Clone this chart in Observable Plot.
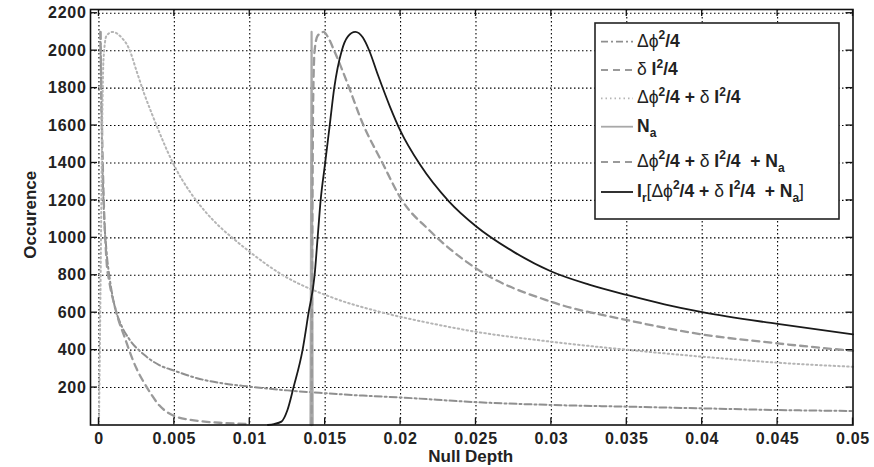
<!DOCTYPE html>
<html><head><meta charset="utf-8">
<script src="https://cdn.jsdelivr.net/npm/d3@7"></script>
<script src="https://cdn.jsdelivr.net/npm/@observablehq/plot@0.6"></script>
<style>body{margin:0;background:#fff} svg{display:block}</style>
</head><body><div id="chart"></div>
<script>
// ---- data ----
const xTicks = [0, 0.005, 0.01, 0.015, 0.02, 0.025, 0.03, 0.035, 0.04, 0.045, 0.05];
const xTickLabels = ["0", "0.005", "0.01", "0.015", "0.02", "0.025", "0.03", "0.035", "0.04", "0.045", "0.05"];
const yTicks = [200, 400, 600, 800, 1000, 1200, 1400, 1600, 1800, 2000, 2200];
const yTickLabels = ["200", "400", "600", "800", "1000", "1200", "1400", "1600", "1800", "2000", "2200"];

// Δφ²/4 (dash-dot)
const dphiX = [0.0001,0.0002,0.0003,0.0005,0.0007,0.001,0.0015,0.002,0.003,0.004,0.005,0.0065,0.008,0.01,0.0125,0.015,0.0175,0.02,0.025,0.03,0.035,0.04,0.045,0.05];
const dphiY = [2100,1500,1200,930,790,650,530,460,375,320,290,250,225,205,185,170,157,147,122,107,98,89,80,75];
// δI²/4 (dashed)
const dIX = [0.0001,0.0002,0.0003,0.0004,0.0005,0.0007,0.001,0.0013,0.0017,0.002,0.0025,0.003,0.0035,0.004,0.0045,0.005,0.006,0.007,0.008,0.009,0.01];
const dIY = [2100,1600,1250,1030,880,760,650,560,470,400,300,225,160,105,70,48,28,18,12,8,5];
// Δφ²/4 + δI²/4 (dotted)
const dotX = [0,0.0001,0.0002,0.0003,0.0005,0.0009,0.0015,0.002,0.0025,0.003,0.0035,0.004,0.0045,0.005,0.006,0.007,0.008,0.009,0.01,0.012,0.0154,0.0187,0.0219,0.025,0.03,0.035,0.04,0.045,0.05];
const dotY = [0,700,1500,1950,2080,2100,2070,2010,1890,1770,1665,1565,1470,1385,1250,1145,1060,990,925,810,683,603,545,498,445,402,365,333,311];
// N_a (narrow solid)
const naX = [0.01403, 0.0141, 0.01417];
const naY = [0, 2100, 0];
// Δφ²/4 + δI²/4 + N_a (dashed)
const sumX = [0.0141,0.01415,0.0142,0.0143,0.0145,0.0149,0.0152,0.0156,0.0166,0.0174,0.0188,0.0201,0.0219,0.025,0.03,0.035,0.04,0.045,0.05];
const sumY = [0,1000,1700,2000,2080,2100,2070,2000,1800,1628,1400,1200,1041,837,658,561,484,436,396];
// I_r[...] (solid black)
const irX = [0.0112,0.0116,0.0121,0.0125,0.0129,0.0135,0.0139,0.0143,0.0145,0.0147,0.015,0.0153,0.0156,0.0161,0.0165,0.017,0.0175,0.0179,0.0185,0.0193,0.02,0.0213,0.0232,0.025,0.0275,0.03,0.0325,0.035,0.0375,0.04,0.045,0.05];
const irY = [0,5,18,80,200,400,600,800,1000,1200,1400,1600,1800,2000,2075,2100,2070,2005,1870,1700,1570,1390,1195,1062,925,820,750,695,645,603,540,484];

const toRows = (xs, ys) => xs.map((x, i) => ({x, y: ys[i]}));

const styles = {
  dphi: {stroke: "#8f8f8f", strokeWidth: 2, strokeDasharray: "7,3,2,3"},
  dI:   {stroke: "#9a9a9a", strokeWidth: 2.3, strokeDasharray: "7,5"},
  dot:  {stroke: "#b5b5b5", strokeWidth: 2, strokeDasharray: "1.5,3"},
  na:   {stroke: "#a8a8a8", strokeWidth: 2.2},
  sum:  {stroke: "#9a9a9a", strokeWidth: 2.3, strokeDasharray: "7,5"},
  ir:   {stroke: "#1a1a1a", strokeWidth: 1.8}
};

const font = "'Liberation Sans', Arial, Helvetica, sans-serif";

const svg = Plot.plot({
  width: 874, height: 467,
  marginLeft: 90, marginRight: 21.5, marginTop: 9, marginBottom: 42.5,
  style: {fontFamily: font, fontSize: "16px", color: "#222", background: "#fff"},
  x: {domain: [-0.00056, 0.05]},
  y: {domain: [0, 2220]},
  marks: [
    Plot.ruleX(xTicks.slice(0, -1), {x: d => d, stroke: "#000", strokeWidth: 1.1, strokeDasharray: "1.5,2.5"}),
    Plot.ruleY(yTicks, {y: d => d, stroke: "#000", strokeWidth: 1.1, strokeDasharray: "1.5,2.5"}),
    Plot.line(toRows(dphiX, dphiY), {x: "x", y: "y", curve: "monotone-x", ...styles.dphi}),
    Plot.line(toRows(dIX, dIY), {x: "x", y: "y", curve: "monotone-x", ...styles.dI}),
    Plot.line(toRows(dotX, dotY), {x: "x", y: "y", curve: "monotone-x", ...styles.dot}),
    Plot.line(toRows(naX, naY), {x: "x", y: "y", ...styles.na}),
    Plot.line(toRows(sumX, sumY), {x: "x", y: "y", curve: "monotone-x", ...styles.sum}),
    Plot.line(toRows(irX, irY), {x: "x", y: "y", curve: "monotone-x", ...styles.ir}),
    Plot.axisX(xTicks, {anchor: "bottom", tickSize: 0, tickPadding: 8, label: null, fontSize: 16, fontWeight: "bold",
      tickFormat: d => xTickLabels[xTicks.indexOf(d)]}),
    Plot.axisY(yTicks, {anchor: "left", tickSize: 0, tickPadding: 4, label: null, fontSize: 16, fontWeight: "bold",
      tickFormat: d => yTickLabels[yTicks.indexOf(d)]}),
    Plot.frame({stroke: "#111", strokeWidth: 1.6})
  ]
});

const sx = svg.scale("x"), sy = svg.scale("y");
const [xl, xr] = sx.range, [yb, yt] = sy.range;
const root = d3.select(svg);
root.selectAll("[aria-label='x-axis tick label'] text, [aria-label='y-axis tick label'] text").style("letter-spacing", "0.7px");
const tg = root.append("g").attr("stroke", "#111").attr("stroke-width", 1.3);
const tl = 7;
xTicks.forEach(v => {
  const px = sx.apply(v);
  tg.append("line").attr("x1", px).attr("x2", px).attr("y1", yb).attr("y2", yb - tl);
  tg.append("line").attr("x1", px).attr("x2", px).attr("y1", yt).attr("y2", yt + tl);
});
yTicks.forEach(v => {
  const py = sy.apply(v);
  tg.append("line").attr("y1", py).attr("y2", py).attr("x1", xl).attr("x2", xl + tl);
  tg.append("line").attr("y1", py).attr("y2", py).attr("x1", xr).attr("x2", xr - tl);
});

// axis titles
root.append("text").attr("x", (xl + xr) / 2 - 0.5).attr("y", 462).attr("text-anchor", "middle")
  .attr("font-family", font).attr("font-size", 17).attr("font-weight", "bold").attr("fill", "#222").text("Null Depth");
root.append("text").attr("transform", `translate(36,${(yb + yt) / 2 - 2}) rotate(-90)`).attr("text-anchor", "middle")
  .attr("font-family", font).attr("font-size", 17).attr("font-weight", "bold").attr("fill", "#222").text("Occurence");

// legend
const lg = root.append("g").attr("text-anchor", "start");
lg.append("rect").attr("x", 595).attr("y", 23).attr("width", 244).attr("height", 196)
  .attr("fill", "#fff").attr("stroke", "#222").attr("stroke-width", 1.6);
const S = (t) => ({t, k: "sym"}), B = (t) => ({t, k: "b"}), SUP = (t) => ({t, k: "sup"}), SUB = (t) => ({t, k: "sub"});
const legendRows = [
  {style: styles.dphi, lineY: 41.7, base: 46.7, parts: [S("Δϕ"), SUP("2"), B("/4")]},
  {style: styles.dI, lineY: 70, base: 75, parts: [S("δ"), B(" I"), SUP("2"), B("/4")]},
  {style: styles.dot, lineY: 98.3, base: 103.3, parts: [S("Δϕ"), SUP("2"), B("/4 + "), S("δ"), B(" I"), SUP("2"), B("/4")]},
  {style: styles.na, lineY: 126.7, base: 131.7, parts: [B("N"), SUB("a")]},
  {style: styles.sum, lineY: 162, base: 166.7, parts: [S("Δϕ"), SUP("2"), B("/4 + "), S("δ"), B(" I"), SUP("2"), B("/4  + N"), SUB("a")]},
  {style: styles.ir, lineY: 192, base: 196.7, parts: [B("I"), SUB("r"), S("["), S("Δϕ"), SUP("2"), B("/4 + "), S("δ"), B(" I"), SUP("2"), B("/4  + N"), SUB("a"), S("]")]}
];
legendRows.forEach(r => {
  const ln = lg.append("line").attr("x1", 601).attr("x2", 633).attr("y1", r.lineY).attr("y2", r.lineY)
    .attr("stroke", r.style.stroke).attr("stroke-width", Math.min(r.style.strokeWidth, 1.8));
  if (r.style.strokeDasharray) ln.attr("stroke-dasharray", r.style.strokeDasharray);
  const t = lg.append("text").attr("x", 637).attr("y", r.base).attr("font-family", font).attr("text-anchor", "start")
    .attr("font-size", 17.5).attr("fill", "#222").attr("xml:space", "preserve").style("white-space", "pre");
  let shift = 0;
  r.parts.forEach(p => {
    const sp = t.append("tspan").text(p.t);
    let target = 0;
    if (p.k === "sym") { sp.attr("font-weight", "normal"); }
    else if (p.k === "b") { sp.attr("font-weight", "bold"); }
    else if (p.k === "sup") { sp.attr("font-weight", "bold").attr("font-size", 12); target = -7.5; }
    else if (p.k === "sub") { sp.attr("font-weight", "bold").attr("font-size", 12); target = 5.5; }
    sp.attr("dy", target - shift);
    shift = target;
  });
});

document.getElementById("chart").appendChild(svg);
</script>
</body></html>
